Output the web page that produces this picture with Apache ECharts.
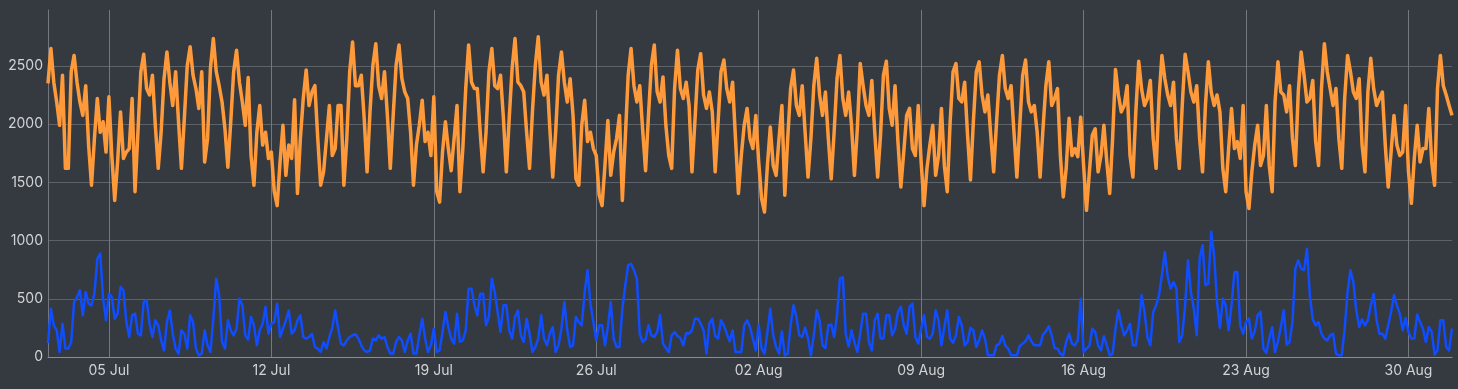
<!DOCTYPE html>
<html>
<head>
<meta charset="utf-8">
<script src="https://cdn.jsdelivr.net/npm/echarts@6/dist/echarts.min.js"></script>
<style>
html,body{margin:0;padding:0;background:#343a40;}
#chart{width:1458px;height:389px;}
</style>
</head>
<body>
<div id="chart"></div>
<script>
// Time base: first sample 2020-07-02 09:00 UTC, one sample every 3 hours
const START_TIME = Date.UTC(2020, 6, 2, 9);
const STEP_HOURS = 3;

// Week tick labels (Sundays)
const tickDates = ['2020-07-05','2020-07-12','2020-07-19','2020-07-26','2020-08-02','2020-08-09','2020-08-16','2020-08-23','2020-08-30'];
const yTicks = [0, 500, 1000, 1500, 2000, 2500];

const seriesNames = ['orange', 'blue'];

const orangeValues = [
2350,2650,2360,2190,1990,2420,1620,1620,2450,2590,
2360,2190,2075,2330,1820,1475,1875,2220,1930,2020,
1760,2235,1730,1345,1675,2105,1705,1760,1790,2220,
1420,1930,2450,2600,2305,2250,2420,1990,1620,1930,
2390,2620,2360,2160,2450,2020,1620,2050,2500,2665,
2420,2305,2135,2450,1675,1875,2480,2735,2450,2330,
2190,1960,1630,2020,2450,2635,2360,2190,1990,2400,
1730,1475,1930,2160,1820,1930,1705,1760,1420,1300,
1675,1990,1560,1820,1705,2210,1405,1875,2220,2465,
2160,2275,2330,1875,1475,1590,1875,2160,1730,1790,
2160,2160,1475,1875,2450,2705,2330,2330,2420,2050,
1590,2105,2505,2690,2330,2220,2450,2075,1620,2075,
2505,2680,2390,2275,2220,1930,1475,1820,1990,2205,
1850,1930,1730,2235,1420,1330,1760,2020,1790,1600,
1876,2160,1420,1790,2305,2680,2360,2305,2305,1930,
1590,1930,2450,2650,2330,2305,2420,2050,1590,2050,
2480,2735,2360,2330,2275,1930,1620,2105,2505,2750,
2360,2250,2420,1960,1545,1930,2420,2620,2360,2190,
2390,2075,1530,1475,1990,2205,1850,1930,1790,1730,
1390,1300,1645,2030,1560,1760,1876,2075,1345,1876,
2420,2650,2330,2190,2330,1950,1600,2075,2505,2680,
2277,2190,2405,1990,1730,1620,2305,2635,2305,2220,
2360,2160,1590,2020,2465,2605,2250,2135,2275,2105,
1590,2020,2450,2550,2305,2190,2360,1875,1405,1730,
1990,2135,1875,1790,2075,1675,1360,1245,1645,1975,
1645,1560,1875,2160,1390,1875,2305,2465,2160,2075,
2330,1930,1545,1875,2330,2565,2250,2075,2275,1875,
1530,1930,2390,2590,2220,2075,2275,1990,1560,1960,
2520,2330,2160,2075,2375,1930,1545,1905,2420,2540,
2135,1990,2330,1850,1460,1760,2075,2135,1790,1730,
2160,1675,1300,1620,1820,1990,1560,1730,2135,1645,
1420,2020,2450,2520,2220,2190,2360,1905,1520,2020,
2450,2535,2250,2105,2250,1905,1590,2020,2420,2590,
2305,2220,2330,1930,1545,1990,2420,2550,2190,2105,
2160,1930,1545,1960,2330,2535,2160,2220,2305,1730,
1375,1620,2050,1730,1790,1720,2060,1645,1260,1590,
1905,1960,1590,1730,1990,1675,1405,1875,2470,2250,
2105,2160,2330,1730,1545,2105,2540,2300,2160,2220,
2375,1875,1620,2220,2590,2390,2250,2160,2360,1875,
1620,2160,2600,2450,2275,2190,2330,1875,1590,2160,
2535,2275,2160,2250,2105,1620,1420,1790,2135,1790,
1850,1705,2160,1420,1275,1590,1820,1990,1645,1730,
2160,1645,1420,2190,2535,2275,2250,2105,2330,1875,
1645,2275,2620,2420,2190,2220,2375,1850,1645,2305,
2690,2450,2305,2160,2305,1875,1620,2220,2590,2450,
2275,2220,2390,1820,1590,2275,2565,2305,2160,2220,
2275,1820,1460,1760,2075,1820,1730,1760,2160,1590,
1320,1705,1990,1675,1790,1790,2135,1675,1475,2305,
2590,2330,2250,2160,2075
];

const blueValues = [
120,415,272,230,43,286,72,72,129,473,
515,573,358,558,458,444,544,845,888,501,
315,544,515,329,372,601,573,300,172,358,
372,200,186,473,487,286,172,315,272,143,
57,300,400,200,72,29,229,200,72,358,
300,72,14,29,229,100,43,329,673,530,
129,72,315,229,186,243,501,444,186,150,
344,272,100,229,286,430,200,286,300,458,
172,243,315,400,200,229,315,358,172,158,
172,200,86,72,43,129,72,172,250,400,
250,115,100,143,172,186,195,158,100,57,
43,57,158,143,186,158,172,86,29,29,
129,172,143,43,143,200,29,29,186,329,
158,43,100,243,43,57,215,387,258,158,
115,372,129,143,229,587,587,444,358,544,
544,272,344,673,558,387,215,444,444,229,
158,344,400,186,129,329,200,43,86,158,
358,158,100,200,258,43,100,243,473,229,
86,100,344,300,272,558,745,458,300,143,
272,272,100,258,473,158,86,86,415,616,
788,800,745,673,200,129,150,272,186,172,
215,358,115,77,43,186,215,180,163,100,
206,200,229,329,329,286,229,29,286,329,
180,158,315,272,200,135,229,43,43,43,
272,315,258,158,57,278,72,29,215,415,
186,86,29,220,14,29,272,444,344,186,
172,252,158,14,186,401,315,100,77,272,
278,172,358,673,687,200,90,229,129,43,
200,372,372,129,57,315,372,158,158,358,
358,186,243,387,430,272,200,430,458,172,
115,243,358,172,158,200,401,315,100,258,
401,158,123,186,344,272,100,129,250,229,
86,143,229,158,14,14,14,100,115,180,
100,72,14,14,14,95,115,135,186,135,
100,100,100,192,220,265,186,77,72,29,
14,129,200,115,100,143,501,43,72,95,
243,215,100,57,178,100,14,29,243,401,
278,186,229,286,100,100,272,530,387,172,
100,387,444,530,702,902,687,587,644,587,
129,186,444,830,558,415,186,845,960,616,
630,1075,873,473,250,501,444,229,444,730,
730,272,200,300,330,158,220,358,387,72,
34,158,255,43,135,258,401,106,129,300,
759,830,759,745,930,530,323,272,300,200,
158,143,186,200,29,14,14,243,558,745,
644,401,258,323,272,315,444,544,315,200,
200,158,272,387,530,444,372,229,335,215,
158,158,364,300,243,129,258,215,20,57,
315,315,86,57,243
];

const MONTHS = ['Jan','Feb','Mar','Apr','May','Jun','Jul','Aug','Sep','Oct','Nov','Dec'];
const HOUR = 3600 * 1000;
function toPairs(vals) {
  return vals.map((v, i) => [START_TIME + i * STEP_HOURS * HOUR, v]);
}
const orangeData = toPairs(orangeValues);
const blueData = toPairs(blueValues);
const n = Math.max(orangeValues.length, blueValues.length);
const xMin = START_TIME;
const xMax = START_TIME + (n - 1) * STEP_HOURS * HOUR;
const tickValues = tickDates.map(s => { const p = s.split('-'); return Date.UTC(+p[0], +p[1] - 1, +p[2]); });

const chart = echarts.init(document.getElementById('chart'), null, {renderer: 'canvas'});
const labelColor = '#d2d3d5';
const fontFamily = 'Inter, "Noto Sans", sans-serif';

chart.setOption({
  backgroundColor: '#343a40',
  animation: false,
  grid: {left: 48, right: 6, top: 10, bottom: 32, containLabel: false, outerBoundsMode: 'none'},
  xAxis: {
    type: 'value',
    min: xMin,
    max: xMax,
    axisLine: {show: true, lineStyle: {color: '#8a8e94', width: 1}},
    axisTick: {show: false, customValues: tickValues},
    axisLabel: {
      customValues: tickValues,
      color: labelColor, fontSize: 14, fontFamily: fontFamily, margin: 7,
      formatter: function (v) {
        const d = new Date(v);
        const dd = String(d.getUTCDate()).padStart(2, '0');
        return dd + ' ' + MONTHS[d.getUTCMonth()];
      }
    },
    splitLine: {show: true, lineStyle: {color: '#74787e', width: 1}}
  },
  yAxis: {
    type: 'value',
    min: 0,
    max: 2980,
    interval: 500,
    axisLine: {show: true, lineStyle: {color: '#74787e', width: 1}},
    axisTick: {show: false},
    axisLabel: {color: labelColor, fontSize: 14, fontFamily: fontFamily, margin: 5, showMaxLabel: false,
      formatter: function (v) { return yTicks.indexOf(v) >= 0 ? String(v) : ''; }},
    splitLine: {show: true, showMaxLine: false, lineStyle: {color: '#5d6168', width: 1}}
  },
  series: [
    {
      name: seriesNames[0], type: 'line', data: orangeData, showSymbol: false,
      lineStyle: {color: '#ff9a3a', width: 3.5, join: 'round'}, itemStyle: {color: '#ff9a3a'}, z: 3
    },
    {
      name: seriesNames[1], type: 'line', data: blueData, showSymbol: false,
      lineStyle: {color: '#0f4dff', width: 2.5, join: 'round'}, itemStyle: {color: '#0f4dff'}, z: 4
    }
  ]
});
</script>
</body>
</html>
